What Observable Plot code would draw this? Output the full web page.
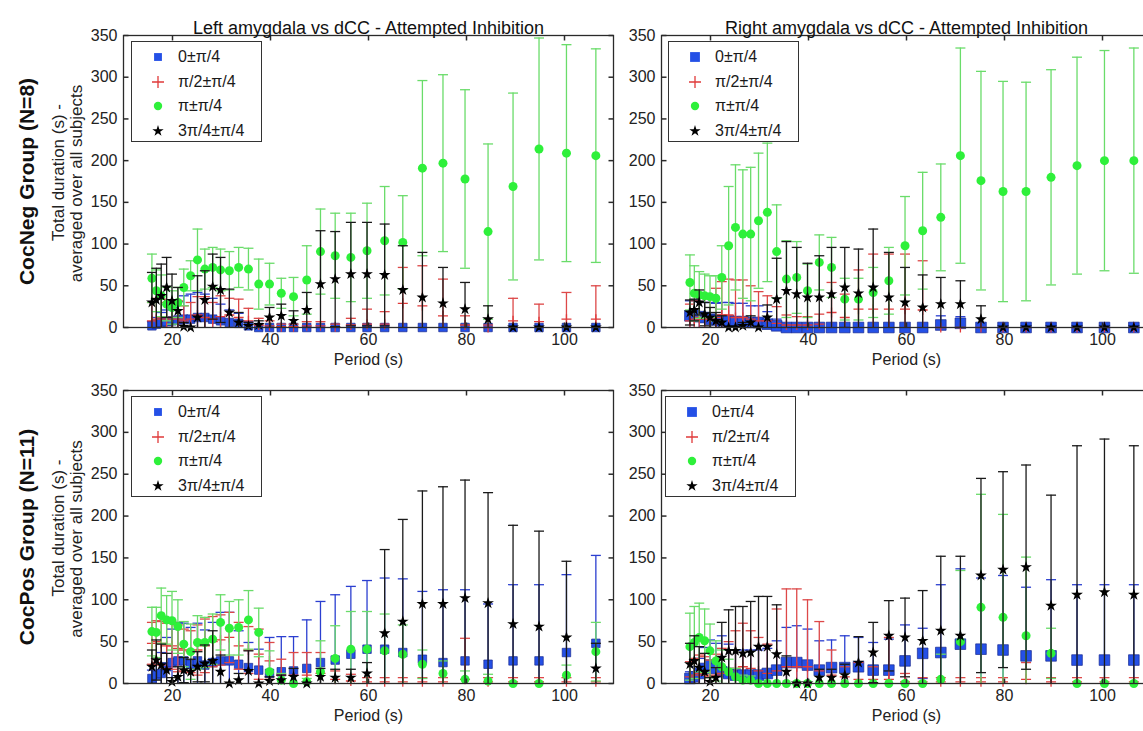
<!DOCTYPE html>
<html><head><meta charset="utf-8">
<script src="https://cdn.jsdelivr.net/npm/d3@7"></script>
<script src="https://cdn.jsdelivr.net/npm/@observablehq/plot@0.6"></script>
<style>
body{margin:0;background:#fff;}
#fig{position:relative;width:1143px;height:731px;overflow:hidden;background:#fff;font-family:"Liberation Sans",Arial,sans-serif;color:#222;}
#fig svg.plot-panel{position:absolute;overflow:visible;}
.legend{position:absolute;border:1.3px solid #333;background:#fff;font-size:16px;box-sizing:border-box;color:#1a1a1a;}
.legend .row{position:absolute;left:0;height:24px;line-height:24px;white-space:nowrap;}
.legend .row svg{position:absolute;left:16px;top:4px;}
.legend .row span{position:absolute;left:46px;}
</style></head>
<body><div id="fig"></div>
<script>
// ---------- data ----------
const periods = [15.8,16.7,17.7,18.8,19.9,21.1,22.3,23.7,25.1,26.6,28.2,29.8,31.6,33.5,35.5,37.6,39.8,42.2,44.7,47.4,50.2,53.2,56.4,59.7,63.3,67.0,71.0,75.2,79.7,84.4,89.5,94.8,100.4,106.4];
const seriesNames = ["0\u00b1\u03c0/4","\u03c0/2\u00b1\u03c0/4","\u03c0\u00b1\u03c0/4","3\u03c0/4\u00b1\u03c0/4"];
const yTicks = [0,50,100,150,200,250,300,350];
const xTicks = [20,40,60,80,100];
const titles = ["Left amygdala vs dCC - Attempted Inhibition","Right amygdala vs dCC - Attempted Inhibition"];
const groupLabels = ["CocNeg Group (N=8)","CocPos Group (N=11)"];
const yLabelLines = ["Total duration (s) -","averaged over all subjects"];
const xLabel = "Period (s)";

// CocNeg, left amygdala
const negL_blue    = [2,4,6,7,8,9,10,10,12,12,10,8,6,5,2,0,0,0,0,0,0,0,0,0,0,0,0,0,0,0,0,0,0,0];
const negL_blueE   = [5,8,12,14,16,22,28,30,30,28,25,20,15,12,5,0,0,0,0,0,0,0,0,0,0,0,0,0,0,0,0,0,0,0];
const negL_red     = [8,10,12,10,12,10,8,10,15,12,10,13,15,12,8,3,2,1,1,2,2,1,3,4,4,29,26,14,3,0,8,7,10,10];
const negL_redE    = [22,25,22,20,20,22,18,20,22,25,20,25,20,22,15,8,6,3,3,5,5,3,8,18,15,43,48,44,11,3,27,21,32,40];
const negL_green   = [59,44,38,28,24,30,48,62,81,70,72,69,68,72,70,52,52,41,37,57,91,86,84,92,104,102,191,197,178,115,169,214,209,206];
const negL_greenE  = [29,25,25,20,20,18,22,18,37,24,24,25,23,24,25,30,25,18,23,41,51,51,53,57,65,56,105,106,107,105,112,133,130,128];
const negL_black   = [30,33,38,48,32,20,1,0,12,33,49,45,18,6,2,3,12,14,8,21,52,58,64,64,63,45,36,29,22,10,0,0,0,0];
const negL_blackE  = [36,38,38,36,32,28,5,0,50,35,39,39,28,12,4,5,12,14,12,21,64,57,62,62,61,53,54,43,32,16,0,0,0,0];

// CocNeg, right amygdala
const negR_blue    = [14,15,13,12,10,9,8,8,7,7,6,6,4,2,0,0,0,0,0,0,0,0,0,0,0,3,5,0,0,0,0,0,0,0];
const negR_blueE   = [18,18,18,18,20,20,22,22,22,22,20,20,15,8,0,0,0,0,0,0,0,0,0,0,0,11,8,0,0,0,0,0,0,0];
const negR_red     = [8,10,12,10,10,12,15,15,12,12,10,8,8,5,3,3,3,4,18,12,22,22,22,22,21,0,0,0,0,0,0,0,0,0];
const negR_redE    = [20,22,25,25,28,35,40,43,45,45,40,35,30,20,12,10,10,12,36,28,47,66,66,66,59,0,0,0,0,0,0,0,0,0];
const negR_green   = [54,41,39,38,37,35,60,98,120,112,112,128,138,91,58,60,44,78,72,34,34,42,56,98,116,132,206,176,163,163,180,194,200,200];
const negR_greenE  = [33,33,28,26,25,27,38,71,75,77,80,81,83,56,46,43,32,33,36,25,25,30,40,59,70,64,129,131,132,131,129,130,132,135];
const negR_black   = [18,21,30,16,12,8,6,0,0,2,6,0,12,34,44,40,36,36,40,48,41,48,36,30,24,28,28,10,0,0,0,0,0,0];
const negR_blackE  = [15,13,15,14,12,10,8,0,0,4,8,0,15,49,59,56,41,50,56,48,53,70,54,42,39,32,28,16,0,0,0,0,0,0];

// CocPos, left amygdala
const posL_blue    = [6,10,12,20,25,27,27,23,27,22,25,27,27,23,19,16,12,14,15,18,25,28,35,41,41,37,29,25,27,23,27,27,37,48];
const posL_blueE   = [10,15,25,35,40,46,45,44,45,42,48,58,58,40,30,25,43,42,41,58,73,78,81,82,85,88,81,87,85,72,91,91,93,105];
const posL_red     = [48,50,48,45,45,42,40,38,40,45,50,52,55,45,40,35,27,10,10,10,12,5,3,2,2,2,2,2,5,2,2,2,2,2];
const posL_redE    = [25,25,26,27,28,28,25,25,30,32,30,30,30,28,28,30,22,19,27,27,25,10,8,5,5,5,5,5,49,5,5,5,5,5];
const posL_green   = [62,61,81,76,75,68,47,38,49,49,53,73,66,67,76,61,14,4,0,2,14,30,41,41,39,35,23,12,5,3,0,0,10,38];
const posL_greenE  = [29,30,33,29,35,32,27,33,32,30,30,33,32,33,35,29,25,8,0,4,37,39,45,45,44,35,17,15,10,8,0,0,12,35];
const posL_black   = [20,28,22,16,2,8,16,14,20,24,27,14,0,4,15,0,3,4,8,0,8,7,7,12,60,74,95,95,102,96,71,68,55,18];
const posL_blackE  = [20,24,25,20,5,12,15,15,18,22,36,20,0,8,24,0,5,6,10,0,10,10,10,13,100,122,135,140,141,132,118,114,91,30];

// CocPos, right amygdala
const posR_blue    = [6,8,12,18,22,18,14,12,10,10,10,10,12,16,25,25,22,16,19,19,20,16,16,27,36,37,47,41,40,33,33,28,28,28];
const posR_blueE   = [8,12,18,25,30,30,43,35,30,30,30,30,30,35,42,44,43,35,33,38,35,33,37,43,30,81,90,85,89,82,91,90,90,90];
const posR_red     = [8,10,12,10,8,10,12,15,18,20,18,15,12,15,20,20,20,15,10,8,5,5,5,2,2,2,2,2,2,5,2,2,2,2];
const posR_redE    = [18,20,22,22,20,25,30,35,45,52,45,40,35,74,93,93,80,59,30,12,20,15,50,10,5,5,5,5,5,20,5,5,5,5];
const posR_green   = [44,49,55,51,39,27,20,14,8,4,4,0,0,0,0,0,0,0,0,0,0,0,0,0,0,5,50,91,79,57,36,0,0,0];
const posR_greenE  = [40,43,41,38,32,24,20,15,10,6,5,0,0,0,0,0,0,0,0,0,0,0,0,0,0,30,85,135,123,94,30,0,0,0];
const posR_black   = [23,27,19,14,2,7,31,39,39,36,37,44,44,35,14,0,0,7,7,10,25,37,57,55,51,63,57,129,136,139,93,106,109,106];
const posR_blackE  = [25,30,25,22,5,12,42,49,53,56,61,60,60,59,19,0,0,10,10,13,31,36,42,47,60,89,95,116,117,122,132,178,183,178];

// ---------- styling ----------
const markerFill  = ["#2450e6","#e03a3a","#2ef03a","#000000"];
const barColor    = ["#2b3fd0","#dd4848","#6adc6a","#1a1a1a"];

const capSym  = {draw(c,s){const r=Math.sqrt(s/Math.PI);c.moveTo(-r,0);c.lineTo(r,0);}};
const plusSym = {draw(c,s){const r=Math.sqrt(s/Math.PI);c.moveTo(-r,0);c.lineTo(r,0);c.moveTo(0,-r);c.lineTo(0,r);}};
const tUp    = {draw(c,s){const r=Math.sqrt(s/Math.PI);c.moveTo(0,0);c.lineTo(0,-r);}};
const tDown  = {draw(c,s){const r=Math.sqrt(s/Math.PI);c.moveTo(0,0);c.lineTo(0,r);}};
const tRight = {draw(c,s){const r=Math.sqrt(s/Math.PI);c.moveTo(0,0);c.lineTo(r,0);}};
const tLeft  = {draw(c,s){const r=Math.sqrt(s/Math.PI);c.moveTo(0,0);c.lineTo(-r,0);}};

function rowsOf(list){
  const out=[];
  list.forEach(([m,e],s)=>periods.forEach((p,i)=>out.push({p,m:m[i],e:e[i],s})));
  return out;
}

const fig = document.getElementById("fig");
const W = 490;

function panel(o){
  const ml=o.ml, mr=10, mt=o.mt, mb=50;
  const rows = rowsOf(o.series);
  const marks = [];
  for(let s=0;s<4;s++){
    const d = rows.filter(r=>r.s===s);
    const de = d.filter(r=>r.e>0);
    marks.push(Plot.ruleX(de,{x:"p",y1:r=>r.m-r.e,y2:r=>r.m+r.e,stroke:barColor[s],strokeWidth:1.3,clip:true}));
    marks.push(Plot.dot(de.flatMap(r=>[{p:r.p,y:r.m+r.e},{p:r.p,y:r.m-r.e}]),{x:"p",y:"y",symbol:capSym,r:5,stroke:barColor[s],strokeWidth:1.3,fill:"none",clip:true}));
    if(s===0) marks.push(Plot.dot(d,{x:"p",y:"m",symbol:"square",r:o.sq,fill:markerFill[0],stroke:"#1a2a90",strokeWidth:0.7}));
    if(s===1) marks.push(Plot.dot(d,{x:"p",y:"m",symbol:plusSym,r:5,fill:"none",stroke:markerFill[1],strokeWidth:1.3}));
    if(s===2) marks.push(Plot.dot(d,{x:"p",y:"m",symbol:"circle",r:4.5,fill:markerFill[2],stroke:"none"}));
    if(s===3) marks.push(Plot.dot(d,{x:"p",y:"m",symbol:"star",r:3.7,fill:markerFill[3],stroke:"none"}));
  }
  marks.push(Plot.frame({stroke:"#2a2a2a",strokeWidth:1.3}));
  marks.push(Plot.dot(xTicks,{x:d=>d,frameAnchor:"bottom",symbol:tUp,r:5,stroke:"#2a2a2a",fill:"none"}));
  marks.push(Plot.dot(xTicks,{x:d=>d,frameAnchor:"top",symbol:tDown,r:5,stroke:"#2a2a2a",fill:"none"}));
  marks.push(Plot.dot(yTicks,{y:d=>d,frameAnchor:"left",symbol:tRight,r:5,stroke:"#2a2a2a",fill:"none"}));
  marks.push(Plot.dot(yTicks,{y:d=>d,frameAnchor:"right",symbol:tLeft,r:5,stroke:"#2a2a2a",fill:"none"}));
  marks.push(Plot.axisY({ticks:yTicks,tickSize:0,tickPadding:6,label:null,fontSize:16,fill:"#222"}));
  marks.push(Plot.axisX({ticks:xTicks,tickSize:0,tickPadding:6,label:null,fontSize:16,fill:"#222"}));
  marks.push(Plot.text([xLabel],{frameAnchor:"bottom",text:d=>d,dy:37,fontSize:16,fill:"#222",textAnchor:"middle"}));
  if(o.title) marks.push(Plot.text([o.title],{frameAnchor:"top",text:d=>d,dy:-14,fontSize:18,fill:"#111",textAnchor:"middle"}));
  if(o.group){
    marks.push(Plot.text([o.group],{frameAnchor:"left",text:d=>d,rotate:-90,dx:-96,fontSize:21,fontWeight:"bold",fill:"#111",textAnchor:"middle",lineAnchor:"middle"}));
    marks.push(Plot.text([yLabelLines[0]],{frameAnchor:"left",text:d=>d,rotate:-90,dx:-65,dy:-9,fontSize:17,fill:"#222",textAnchor:"middle",lineAnchor:"middle"}));
    marks.push(Plot.text([yLabelLines[1]],{frameAnchor:"left",text:d=>d,rotate:-90,dx:-47,dy:2,fontSize:17,fill:"#222",textAnchor:"middle",lineAnchor:"middle"}));
  }
  const svg = Plot.plot({
    width: ml+W+mr, height: mt+o.h+mb,
    marginLeft: ml, marginRight: mr, marginTop: mt, marginBottom: mb,
    x:{domain:[10,110]}, y:{domain:[0,350]},
    style:{background:"transparent",fontFamily:'"Liberation Sans",Arial,sans-serif',fontSize:"16px",overflow:"visible"},
    marks
  });
  svg.classList.add("plot-panel");
  svg.style.left = (o.x0-ml)+"px";
  svg.style.top = (o.y0-mt)+"px";
  svg.style.maxWidth="none";
  fig.appendChild(svg);

  // legend
  const lg = document.createElement("div");
  lg.className="legend";
  lg.style.left=(o.x0+o.lgDx)+"px"; lg.style.top=(o.y0+6)+"px";
  lg.style.width="131px"; lg.style.height="101px";
  const sqA = o.sq*o.sq*Math.PI;
  const symPaths = [
    `<path d="${d3.symbol(d3.symbolSquare, sqA*0.85)()}" fill="${markerFill[0]}" transform="translate(10,8)"/>`,
    `<path d="M4,8H16M10,2V14" stroke="${markerFill[1]}" stroke-width="1.3" fill="none"/>`,
    `<circle cx="10" cy="8" r="4.2" fill="${markerFill[2]}"/>`,
    `<path d="${d3.symbol(d3.symbolStar, 40)()}" fill="#000" transform="translate(10,8)"/>`
  ];
  seriesNames.forEach((n,i)=>{
    const r=document.createElement("div");
    r.className="row"; r.style.top=(3+i*24.5)+"px"; r.style.width="100%";
    r.innerHTML=`<svg width="20" height="16">${symPaths[i]}</svg><span>${n}</span>`;
    lg.appendChild(r);
  });
  fig.appendChild(lg);
}

panel({series:[[negL_blue,negL_blueE],[negL_red,negL_redE],[negL_green,negL_greenE],[negL_black,negL_blackE]],
  x0:123,y0:35,h:292,ml:123,mt:35,sq:4.8,title:titles[0],group:groupLabels[0],lgDx:8});
panel({series:[[negR_blue,negR_blueE],[negR_red,negR_redE],[negR_green,negR_greenE],[negR_black,negR_blackE]],
  x0:661,y0:35,h:292,ml:50,mt:35,sq:6,title:titles[1],lgDx:7});
panel({series:[[posL_blue,posL_blueE],[posL_red,posL_redE],[posL_green,posL_greenE],[posL_black,posL_blackE]],
  x0:123,y0:390,h:293,ml:123,mt:10,sq:4.8,group:groupLabels[1],lgDx:8});
panel({series:[[posR_blue,posR_blueE],[posR_red,posR_redE],[posR_green,posR_greenE],[posR_black,posR_blackE]],
  x0:661,y0:390,h:293,ml:50,mt:10,sq:6,lgDx:4});
</script>
</body></html>
